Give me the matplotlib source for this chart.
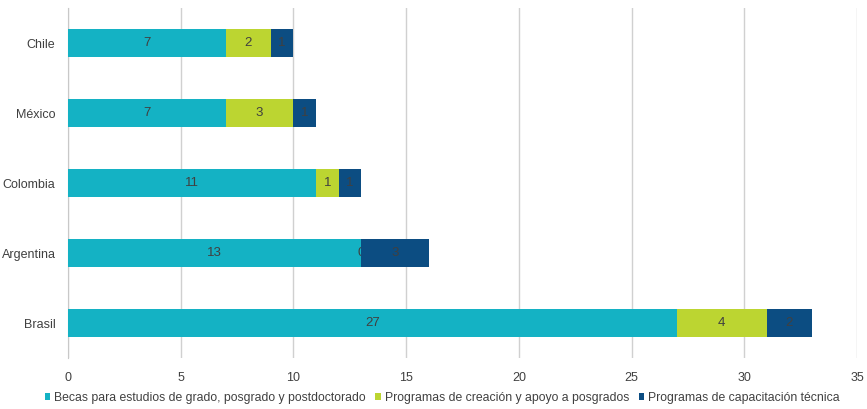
import matplotlib
matplotlib.use("Agg")
import matplotlib.pyplot as plt
import numpy as np

# ---------------------------------------------------------------------------
# Data
# ---------------------------------------------------------------------------
countries = ["Chile", "México", "Colombia", "Argentina", "Brasil"]
becas = [7, 7, 11, 13, 27]
posgrados = [2, 3, 1, 0, 4]
capacitacion = [1, 1, 1, 3, 2]
series_names = [
    "Becas para estudios de grado, posgrado y postdoctorado",
    "Programas de creación y apoyo a posgrados",
    "Programas de capacitación técnica",
]
colors = ["#14B2C4", "#BCD531", "#0C4D82"]
x_ticks = [0, 5, 10, 15, 20, 25, 30, 35]

plt.rcParams["font.family"] = ["Liberation Sans", "DejaVu Sans"]
text_color = "#404040"

fig = plt.figure(figsize=(8.67, 4.09), dpi=100)
ax = fig.add_axes([0.0784, 0.1247, 0.9101, 0.8553])

y = np.arange(len(countries))
left = np.zeros(len(countries))
for vals, name, col in zip([becas, posgrados, capacitacion], series_names, colors):
    bars = ax.barh(y, vals, left=left, height=0.4, color=col, label=name, zorder=3)
    ax.bar_label(bars, labels=[str(v) for v in vals], label_type="center",
                 color=text_color, fontsize=9.5)
    left += np.array(vals)

ax.set_yticks(y)
ax.set_yticklabels(countries, fontsize=9, color=text_color)
ax.set_ylim(len(countries) - 0.5, -0.5)
ax.set_xlim(0, 35)
ax.set_xticks(x_ticks)
ax.set_xticklabels([str(t) for t in x_ticks], fontsize=9, color=text_color)
ax.tick_params(axis="y", length=0, pad=9)
ax.tick_params(axis="x", length=0, pad=10)
ax.grid(axis="x", color="#D0D0D0", linewidth=1, zorder=0)
for s in ["top", "right", "bottom"]:
    ax.spines[s].set_visible(False)
ax.spines["left"].set_color("#C8C8C8")

fig.legend(loc="lower center", bbox_to_anchor=(0.51, -0.015), ncol=3, frameon=False,
           fontsize=8.8, handlelength=0.45, handleheight=0.45, handletextpad=0.3,
           columnspacing=0.8, labelcolor=text_color)

fig.savefig("out.png", dpi=100)
